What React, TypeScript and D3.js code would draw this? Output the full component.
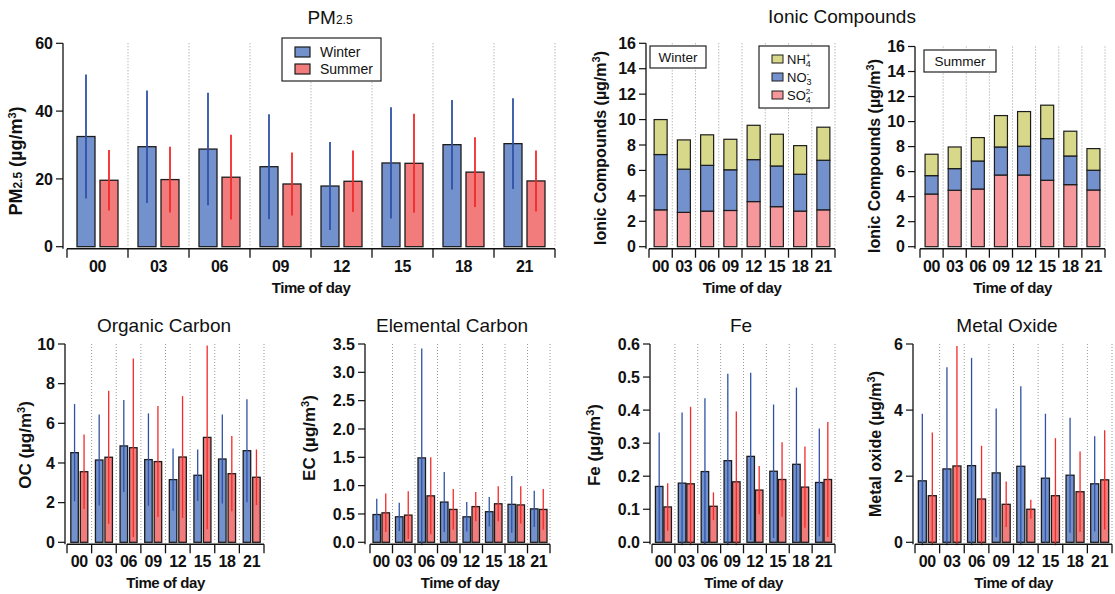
import React from 'react';
import * as d3 from 'd3';

const hours = ['00', '03', '06', '09', '12', '15', '18', '21'];

// PM2.5 mean and standard deviation (µg/m3)
const pmWinter = [32.5, 29.5, 28.8, 23.6, 17.9, 24.7, 30.1, 30.4];
const pmWinterSd = [18.3, 16.6, 16.6, 15.5, 13.0, 16.4, 13.2, 13.4];
const pmSummer = [19.6, 19.8, 20.5, 18.5, 19.3, 24.6, 22.0, 19.4];
const pmSummerSd = [8.9, 9.7, 12.5, 9.3, 9.1, 14.6, 10.3, 9.0];

// ionic compounds, stacked
const so4Winter = [2.9, 2.7, 2.8, 2.85, 3.55, 3.15, 2.8, 2.9];
const no3Winter = [4.35, 3.4, 3.6, 3.2, 3.3, 3.2, 2.9, 3.9];
const nh4Winter = [2.75, 2.3, 2.4, 2.4, 2.7, 2.5, 2.25, 2.6];
const so4Summer = [4.21, 4.51, 4.61, 5.73, 5.73, 5.31, 4.96, 4.53];
const no3Summer = [1.47, 1.73, 2.24, 2.24, 2.3, 3.33, 2.29, 1.58];
const nh4Summer = [1.71, 1.73, 1.87, 2.51, 2.77, 2.67, 1.98, 1.73];

// organic carbon
const ocWinter = [4.52, 4.15, 4.86, 4.17, 3.16, 3.38, 4.2, 4.62];
const ocWinterSd = [2.45, 2.3, 2.32, 2.33, 1.57, 1.3, 2.24, 2.6];
const ocSummer = [3.56, 4.29, 4.77, 4.07, 4.3, 5.29, 3.46, 3.28];
const ocSummerSd = [1.88, 3.35, 4.5, 2.8, 3.07, 4.63, 1.9, 1.4];

// elemental carbon
const ecWinter = [0.49, 0.45, 1.49, 0.71, 0.45, 0.54, 0.67, 0.59];
const ecWinterSd = [0.28, 0.25, 1.93, 0.53, 0.26, 0.26, 0.5, 0.32];
const ecSummer = [0.52, 0.48, 0.82, 0.58, 0.63, 0.68, 0.66, 0.58];
const ecSummerSd = [0.34, 0.42, 0.68, 0.36, 0.26, 0.31, 0.33, 0.36];

// Fe
const feWinter = [0.169, 0.179, 0.214, 0.247, 0.26, 0.215, 0.236, 0.181];
const feWinterSd = [0.163, 0.214, 0.222, 0.263, 0.253, 0.202, 0.232, 0.163];
const feSummer = [0.107, 0.177, 0.109, 0.183, 0.158, 0.19, 0.167, 0.19];
const feSummerSd = [0.072, 0.233, 0.042, 0.213, 0.073, 0.113, 0.123, 0.174];

// metal oxide
const moWinter = [1.86, 2.22, 2.32, 2.1, 2.3, 1.94, 2.03, 1.77];
const moWinterSd = [2.03, 3.08, 3.26, 1.95, 2.42, 1.95, 1.74, 1.44];
const moSummer = [1.41, 2.31, 1.31, 1.15, 1.0, 1.41, 1.53, 1.89];
const moSummerSd = [1.91, 3.63, 1.61, 0.69, 0.29, 1.74, 1.22, 1.5];

const WINTER = '#7391cd';
const SUMMER = '#f27c7c';
const WINTER_ERR = '#2f52a6';
const SUMMER_ERR = '#f22a2a';
const SO4 = '#f5979b';
const NO3 = '#7391cd';
const NH4 = '#d8d88a';
const FONT = "'Liberation Sans', Arial, sans-serif";

const unit = (
    <>
        {' (µg/m'}
        <tspan baselineShift="super" fontSize="11">3</tspan>
        {')'}
    </>
);

function Panel(props) {
    const { axisX, x0, x1, top, bottom, max, ticks, fmt, title, titleX, titleY, yLabel, yLabelX, yLabelY } = props;
    const labelSize = props.labelSize || 16;
    const x = d3.scaleBand().domain(hours).range([x0, x1]);
    const y = d3.scaleLinear().domain([0, max]).range([bottom, top]);
    const axisY = bottom + 2;
    const bounds = hours.map(h => x(h)).concat([x1]);

    return (
        <g fontFamily={FONT}>
            <text x={titleX} y={titleY} textAnchor="middle" fontSize="19" fill="#111">{title}</text>

            {/* dotted separators */}
            {bounds.slice(1).map((b, i) => (
                <line key={'g' + i} x1={b} x2={b} y1={top} y2={bottom}
                    stroke="#999" strokeWidth="1" strokeDasharray="1 2" />
            ))}

            {props.children(x, y)}

            {/* y axis */}
            <line x1={axisX} x2={axisX} y1={top} y2={axisY} stroke="#111" strokeWidth="1.3" />
            {ticks.map(t => (
                <g key={'y' + t}>
                    <line x1={axisX - 7} x2={axisX} y1={y(t)} y2={y(t)} stroke="#111" strokeWidth="1.2" />
                    <text x={axisX - 10} y={y(t)} dy="0.36em" textAnchor="end" fontSize="16"
                        fontWeight="bold" fill="#111">{fmt(t)}</text>
                </g>
            ))}
            <text transform={`translate(${yLabelX},${yLabelY}) rotate(-90)`} textAnchor="middle"
                dy="0.35em" fontSize={labelSize} fontWeight="bold" fill="#111">{yLabel}</text>

            {/* x axis */}
            <line x1={x0} x2={x1} y1={axisY} y2={axisY} stroke="#111" strokeWidth="1.5" />
            {bounds.map((b, i) => (
                <line key={'t' + i} x1={b} x2={b} y1={axisY} y2={axisY + 9} stroke="#111" strokeWidth="1.3" />
            ))}
            {hours.map(h => (
                <text key={'h' + h} x={x(h) + x.bandwidth() / 2} y={bottom + 25} textAnchor="middle"
                    fontSize="16" fontWeight="bold" letterSpacing="-0.3" fill="#111">{h}</text>
            ))}
            <text x={(x0 + x1) / 2} y={bottom + 46} textAnchor="middle" fontSize="15"
                fontWeight="bold" letterSpacing="-0.4" fill="#111">Time of day</text>
        </g>
    );
}

// winter / summer bars with symmetric error lines
function pairBars(x, y, w, gap, errW, winter, winterSd, summer, summerSd) {
    const floor = y(0) + 3;
    return hours.map((h, i) => {
        const left = x(h) + (x.bandwidth() - 2 * w - gap) / 2;
        const cw = left + w / 2;
        const cs = left + w + gap + w / 2;
        return (
            <g key={h}>
                <rect x={left} y={y(winter[i])} width={w} height={y(0) - y(winter[i])}
                    fill={WINTER} stroke="#1c1c1c" strokeWidth="1.3" />
                <rect x={left + w + gap} y={y(summer[i])} width={w} height={y(0) - y(summer[i])}
                    fill={SUMMER} stroke="#1c1c1c" strokeWidth="1.3" />
                <line x1={cw} x2={cw} y1={y(winter[i] + winterSd[i])}
                    y2={Math.min(y(winter[i] - winterSd[i]), floor)} stroke={WINTER_ERR} strokeWidth={errW} />
                <line x1={cs} x2={cs} y1={y(summer[i] + summerSd[i])}
                    y2={Math.min(y(summer[i] - summerSd[i]), floor)} stroke={SUMMER_ERR} strokeWidth={errW} />
            </g>
        );
    });
}

function stackBars(x, y, so4, no3, nh4) {
    const rows = hours.map((h, i) => ({ hour: h, so4: so4[i], no3: no3[i], nh4: nh4[i] }));
    const series = d3.stack().keys(['so4', 'no3', 'nh4'])(rows);
    const colors = { so4: SO4, no3: NO3, nh4: NH4 };
    const w = 13;
    return series.map(s => (
        <g key={s.key}>
            {s.map(d => (
                <rect key={d.data.hour} x={x(d.data.hour) + (x.bandwidth() - w) / 2} y={y(d[1])}
                    width={w} height={y(d[0]) - y(d[1])} fill={colors[s.key]}
                    stroke="#1c1c1c" strokeWidth="1.2" />
            ))}
        </g>
    ));
}

function Chem({ base, sub, sup }) {
    return (
        <>
            {base}
            <tspan fontSize="9" dy="3">{sub}</tspan>
            <tspan fontSize="8" dx={-5} dy="-9">{sup}</tspan>
        </>
    );
}

export default function App() {
    const f0 = d3.format('d');
    const f1 = d3.format('.1f');
    return (
        <svg width={1115} height={594} style={{ position: 'absolute', left: 0, top: 0, background: '#fff' }}>
            {/* PM2.5 */}
            <Panel axisX={63} x0={67} x1={555} top={43.3} bottom={246.7} max={60} ticks={[0, 20, 40, 60]}
                fmt={f0} titleX={330} titleY={24}
                title={<>PM<tspan fontSize="12">2.5</tspan></>}
                yLabelX={16} yLabelY={161} labelSize={18}
                yLabel={<>PM<tspan fontSize="12">2.5</tspan>{unit}</>}>
                {(x, y) => pairBars(x, y, 18, 5, 1.8, pmWinter, pmWinterSd, pmSummer, pmSummerSd)}
            </Panel>
            <g fontFamily={FONT} fontSize="14" fill="#111">
                <rect x={282} y={38} width={99} height={43} fill="#fff" stroke="#222" strokeWidth="1.2" />
                <rect x={295} y={47} width={15} height={10} fill={WINTER} stroke="#1c1c1c" strokeWidth="1.2" />
                <rect x={295} y={64} width={15} height={10} fill={SUMMER} stroke="#1c1c1c" strokeWidth="1.2" />
                <text x={320} y={57}>Winter</text>
                <text x={320} y={74}>Summer</text>
            </g>

            {/* Ionic compounds */}
            <text x={842} y={23} textAnchor="middle" fontFamily={FONT} fontSize="19" fill="#111">Ionic Compounds</text>
            <Panel axisX={646} x0={649} x1={835} top={43.3} bottom={246.7} max={16}
                ticks={d3.range(0, 17, 2)} fmt={f0} titleX={0} titleY={0} title={null}
                yLabelX={600} yLabelY={148} yLabel={<>Ionic Compounds{unit}</>}>
                {(x, y) => stackBars(x, y, so4Winter, no3Winter, nh4Winter)}
            </Panel>
            <Panel axisX={915} x0={920} x1={1105} top={46.5} bottom={246.7} max={16}
                ticks={d3.range(0, 17, 2)} fmt={f0} titleX={0} titleY={0} title={null}
                yLabelX={874} yLabelY={156} yLabel={<>Ionic Compounds{unit}</>}>
                {(x, y) => stackBars(x, y, so4Summer, no3Summer, nh4Summer)}
            </Panel>
            <g fontFamily={FONT} fill="#111">
                <rect x={650} y={46} width={56} height={22} fill="#fff" stroke="#222" strokeWidth="1.2" />
                <text x={678} y={62} textAnchor="middle" fontSize="13.5">Winter</text>
                <rect x={924} y={50} width={72} height={22} fill="#fff" stroke="#222" strokeWidth="1.2" />
                <text x={960} y={66} textAnchor="middle" fontSize="13.5">Summer</text>

                <rect x={759} y={46} width={70} height={62} fill="#fff" stroke="#222" strokeWidth="1.2" />
                <rect x={772} y={55} width={11} height={8} fill={NH4} stroke="#1c1c1c" strokeWidth="1" />
                <rect x={772} y={73} width={11} height={8} fill={NO3} stroke="#1c1c1c" strokeWidth="1" />
                <rect x={772} y={91} width={11} height={8} fill={SO4} stroke="#1c1c1c" strokeWidth="1" />
                <text x={787} y={64} fontSize="13"><Chem base="NH" sub="4" sup="+" /></text>
                <text x={787} y={82} fontSize="13"><Chem base="NO" sub="3" sup="-" /></text>
                <text x={787} y={100} fontSize="13"><Chem base="SO" sub="4" sup="2-" /></text>
            </g>

            {/* bottom row */}
            <Panel axisX={65} x0={67} x1={264} top={344} bottom={542.3} max={10} ticks={d3.range(0, 11, 2)}
                fmt={f0} titleX={164} titleY={332} title="Organic Carbon" labelSize={17}
                yLabelX={25} yLabelY={445} yLabel={<>OC{unit}</>}>
                {(x, y) => pairBars(x, y, 7.5, 2, 1.3, ocWinter, ocWinterSd, ocSummer, ocSummerSd)}
            </Panel>
            <Panel axisX={365} x0={370} x1={550} top={344} bottom={542.3} max={3.5} ticks={d3.range(0, 3.51, 0.5)}
                fmt={f1} titleX={452} titleY={332} title="Elemental Carbon" labelSize={17}
                yLabelX={309} yLabelY={438} yLabel={<>EC{unit}</>}>
                {(x, y) => pairBars(x, y, 7.5, 1.5, 1.3, ecWinter, ecWinterSd, ecSummer, ecSummerSd)}
            </Panel>
            <Panel axisX={650} x0={652} x1={835} top={344} bottom={542.3} max={0.6} ticks={d3.range(0, 0.61, 0.1)}
                fmt={f1} titleX={741} titleY={332} title="Fe" labelSize={17}
                yLabelX={594} yLabelY={445} yLabel={<>Fe{unit}</>}>
                {(x, y) => pairBars(x, y, 7.5, 1, 1.3, feWinter, feWinterSd, feSummer, feSummerSd)}
            </Panel>
            <Panel axisX={913} x0={915} x1={1112} top={344} bottom={542.3} max={6} ticks={[0, 2, 4, 6]}
                fmt={f0} titleX={1007} titleY={332} title="Metal Oxide"
                yLabelX={875} yLabelY={444} yLabel={<>Metal oxide{unit}</>}>
                {(x, y) => pairBars(x, y, 8, 2, 1.3, moWinter, moWinterSd, moSummer, moSummerSd)}
            </Panel>
        </svg>
    );
}
